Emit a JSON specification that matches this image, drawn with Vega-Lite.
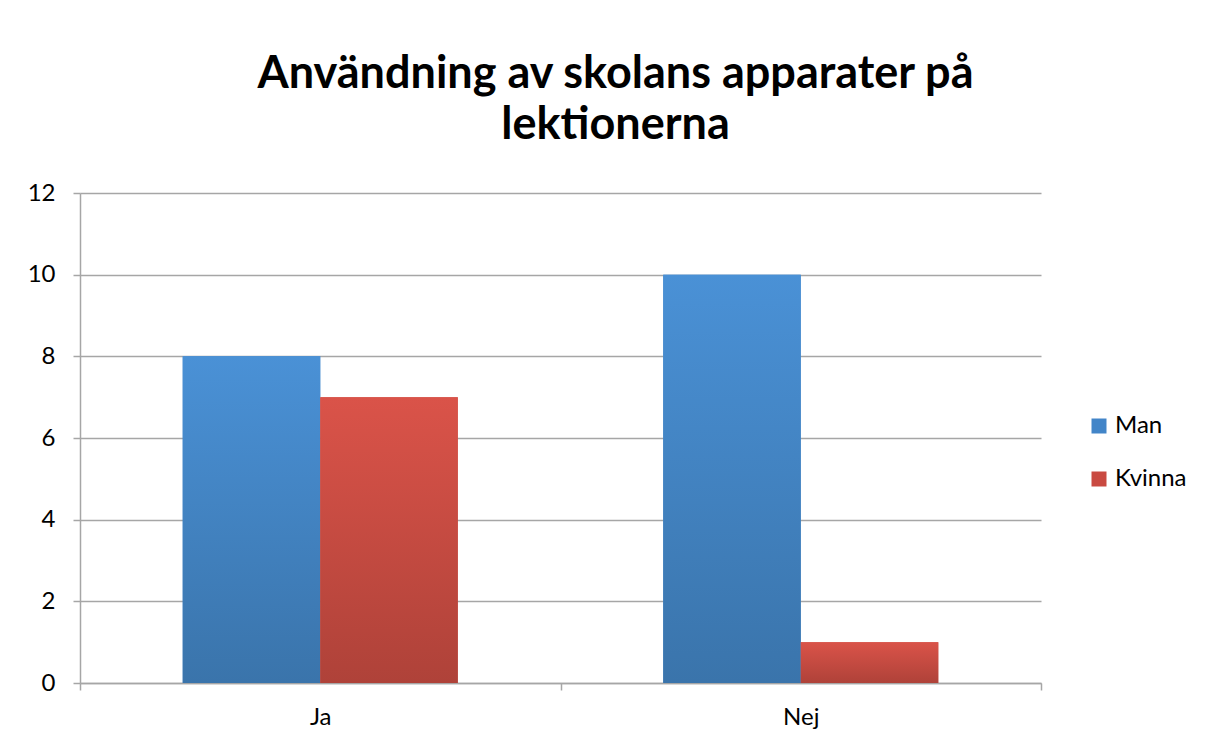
{
  "$schema": "https://vega.github.io/schema/vega-lite/v6.json",
  "width": 961,
  "height": 490,
  "autosize": "none",
  "padding": {"left": 80, "top": 193, "right": 168, "bottom": 59},
  "background": "white",
  "title": {
    "text": ["Användning av skolans apparater på", "lektionerna"],
    "font": "Lato",
    "fontSize": 45,
    "fontWeight": "bold",
    "color": "black",
    "anchor": "middle",
    "dx": 55,
    "offset": 33,
    "lineHeight": 51
  },
  "data": {
    "values": [
      {"answer": "Ja", "gender": "Man", "count": 8},
      {"answer": "Ja", "gender": "Kvinna", "count": 7},
      {"answer": "Nej", "gender": "Man", "count": 10},
      {"answer": "Nej", "gender": "Kvinna", "count": 1}
    ]
  },
  "encoding": {
    "x": {
      "field": "answer",
      "type": "nominal",
      "sort": ["Ja", "Nej"],
      "scale": {"paddingInner": 0, "paddingOuter": 0},
      "axis": {
        "title": null,
        "labelAngle": 0,
        "labelFont": "Lato",
        "labelFontSize": 24,
        "labelColor": "black",
        "labelPadding": 15,
        "tickSize": 7,
        "tickBand": "extent",
        "tickColor": "#A6A6A6",
        "tickWidth": 1.5,
        "domainColor": "#A6A6A6",
        "domainWidth": 1.5,
        "grid": false
      }
    },
    "xOffset": {"field": "gender", "type": "nominal", "scale": {"domain": ["Man", "Kvinna"], "paddingInner": 0, "paddingOuter": 0.747}},
    "y": {
      "field": "count",
      "type": "quantitative",
      "scale": {"domain": [0, 12]},
      "axis": {
        "title": null,
        "values": [0, 2, 4, 6, 8, 10, 12],
        "labelFont": "Lato",
        "labelFontSize": 24,
        "labelColor": "black",
        "labelPadding": 18,
        "tickSize": 7,
        "tickColor": "#A6A6A6",
        "tickWidth": 1.5,
        "domainColor": "#A6A6A6",
        "domainWidth": 1.5,
        "gridColor": "#A6A6A6",
        "gridWidth": 1.5
      }
    }
  },
  "layer": [
    {
      "mark": {"type": "bar"},
      "encoding": {
        "color": {
          "field": "gender",
          "type": "nominal",
          "scale": {"domain": ["Man", "Kvinna"], "range": ["#4285C8", "#C94A41"]},
          "legend": {
            "title": null,
            "orient": "none",
            "legendX": 1007,
            "legendY": 221,
            "symbolType": "square",
            "symbolSize": 225,
            "symbolStrokeWidth": 0,
            "symbolOpacity": 1,
            "labelFont": "Lato",
            "labelFontSize": 24,
            "labelColor": "black",
            "labelOffset": 4,
            "rowPadding": 29
          }
        }
      }
    },
    {
      "transform": [{"filter": "datum.gender === 'Man'"}],
      "mark": {
        "type": "bar",
        "fill": {"gradient": "linear", "x1": 0, "y1": 0, "x2": 0, "y2": 1, "stops": [{"offset": 0, "color": "#4A91D6"}, {"offset": 1, "color": "#3A74AB"}]}
      }
    },
    {
      "transform": [{"filter": "datum.gender === 'Kvinna'"}],
      "mark": {
        "type": "bar",
        "fill": {"gradient": "linear", "x1": 0, "y1": 0, "x2": 0, "y2": 1, "stops": [{"offset": 0, "color": "#DA5349"}, {"offset": 1, "color": "#AF4239"}]}
      }
    }
  ],
  "config": {
    "view": {"stroke": null}
  }
}
